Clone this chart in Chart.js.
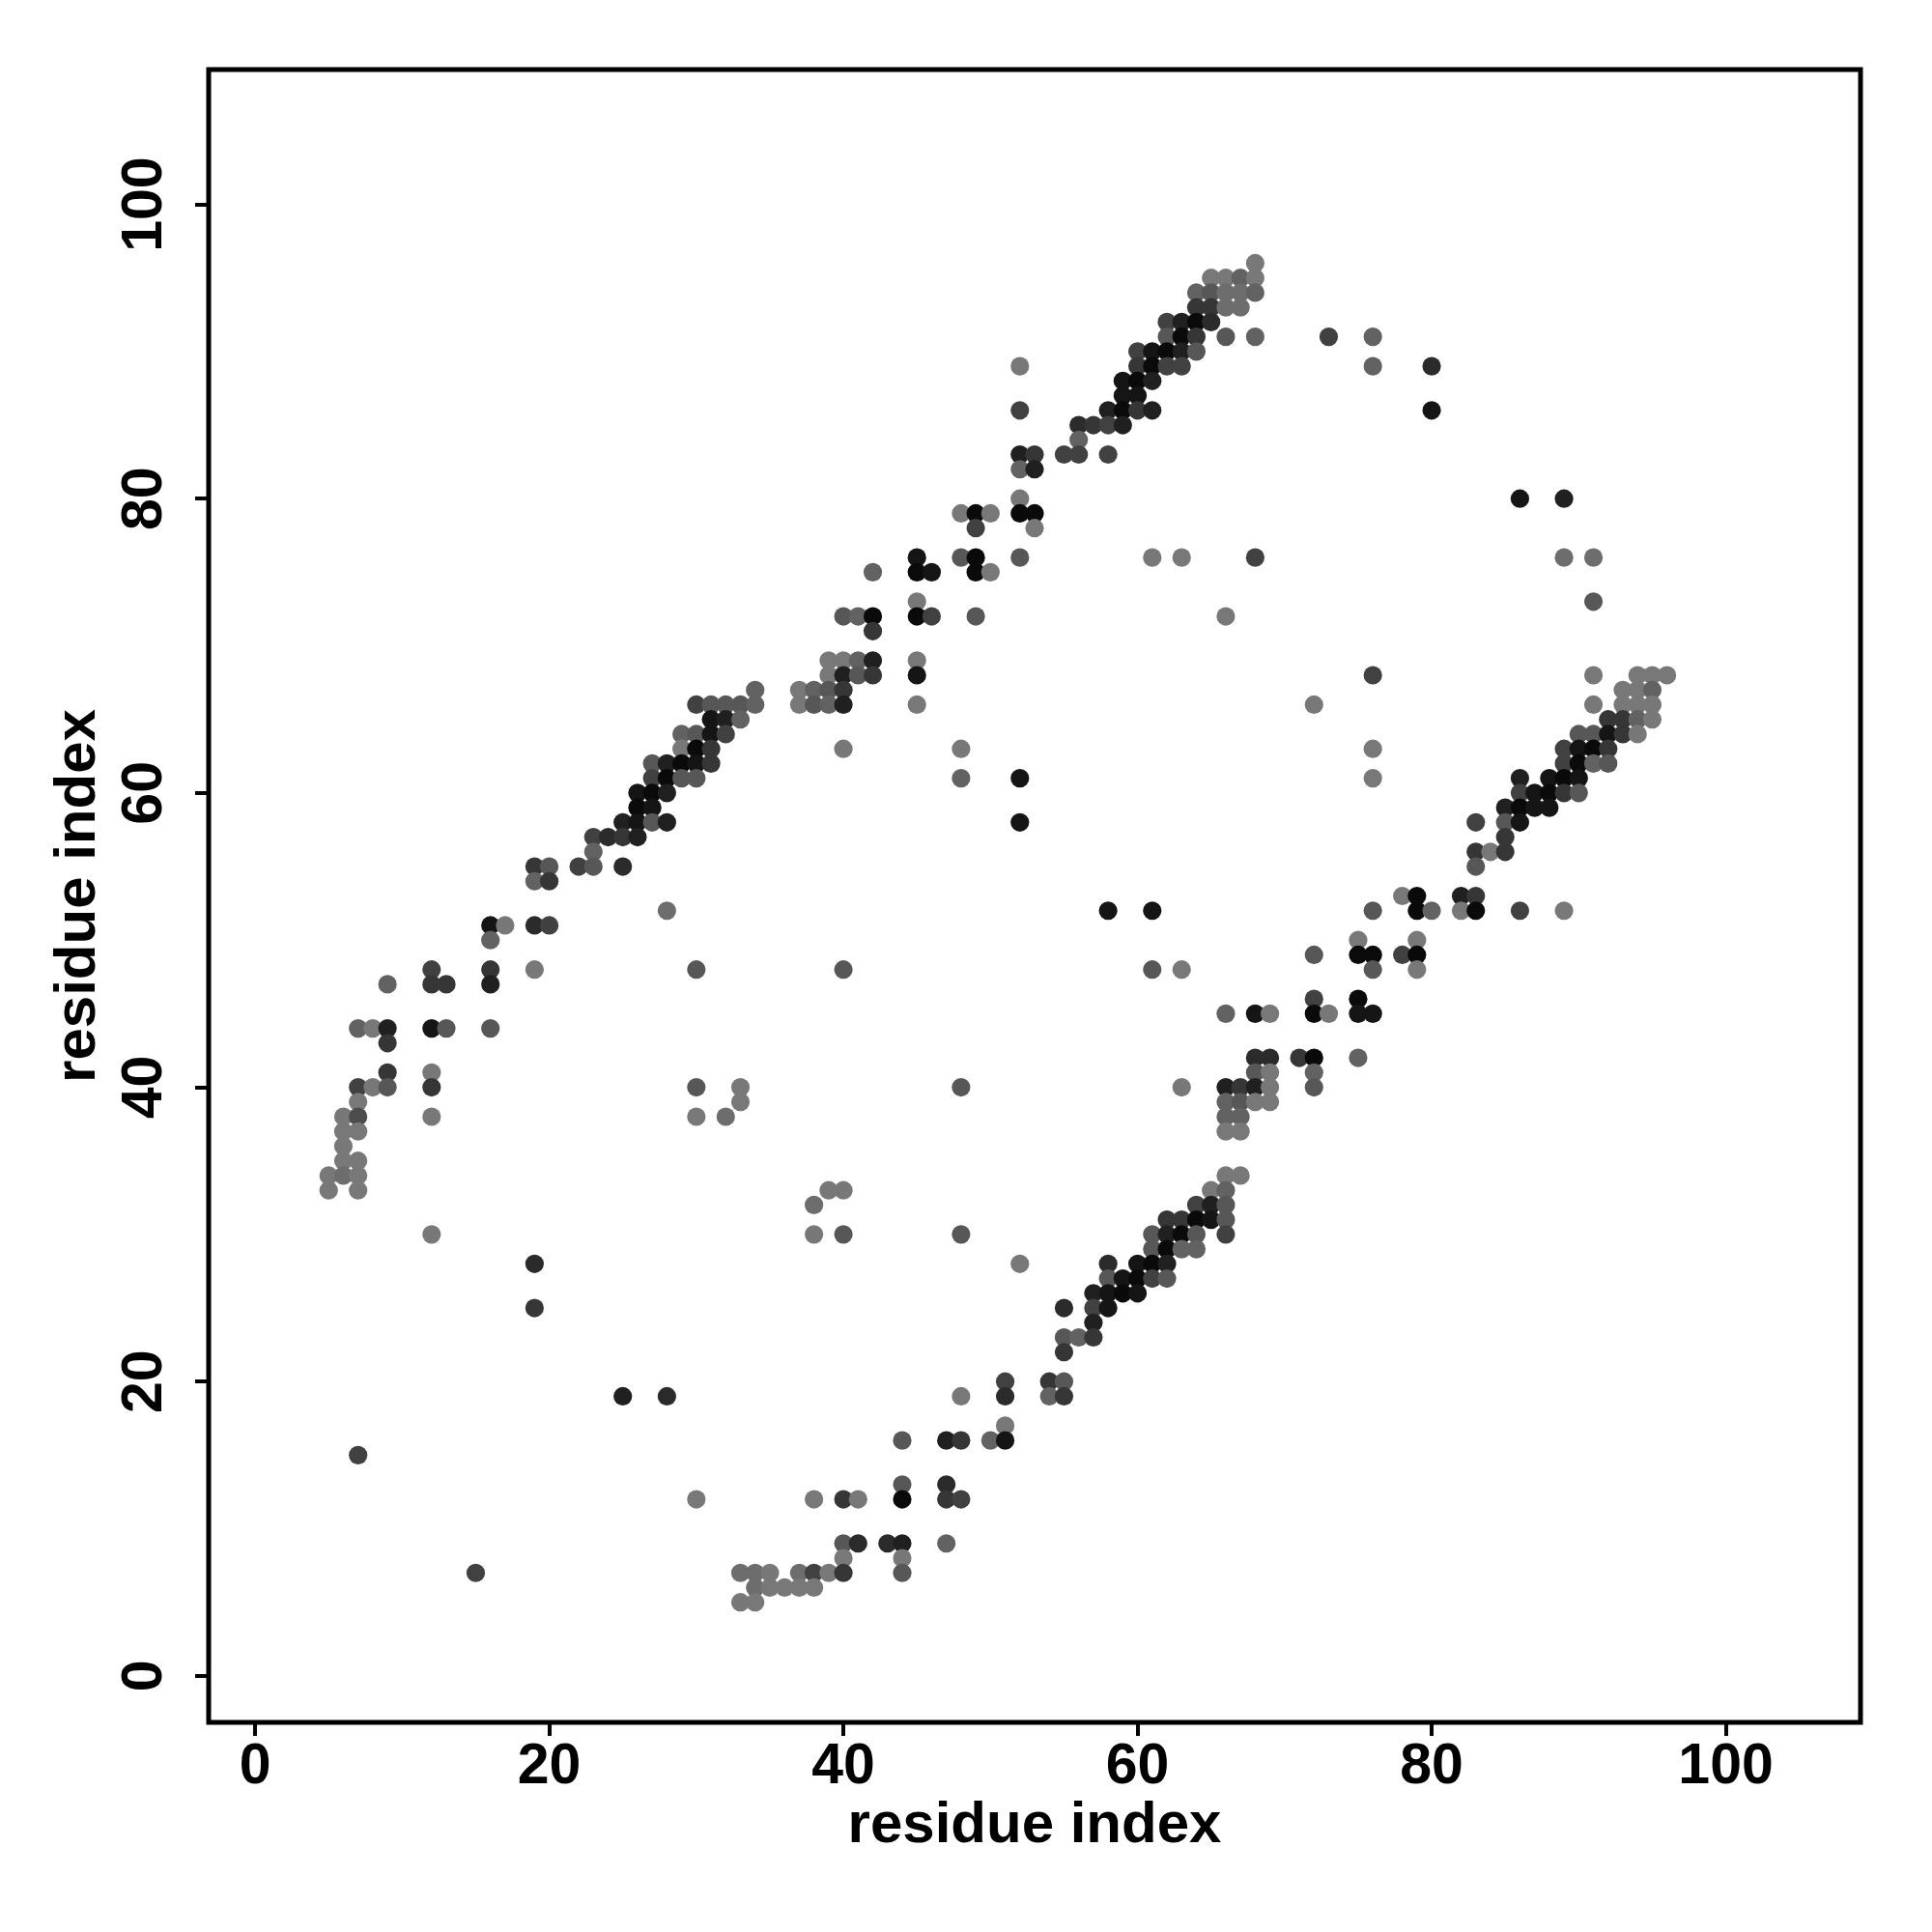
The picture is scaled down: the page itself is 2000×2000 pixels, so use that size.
<!DOCTYPE html>
<html>
<head>
<meta charset="utf-8">
<title>residue contact map</title>
<script src="https://cdn.jsdelivr.net/npm/chart.js@4.4.1/dist/chart.umd.min.js"></script>
<style>
  html, body { margin: 0; padding: 0; background: #fff; }
  #chartContainer { width: 2000px; height: 2000px; }
</style>
</head>
<body>
<div id="chartContainer"><canvas id="myChart" width="2000" height="2000"></canvas></div>
<script>
// contact map: one entry per residue on the y axis (top to bottom)
const rowY = [96, 95, 94, 93, 92, 91, 90, 89, 88, 87, 86, 85, 84, 83, 82, 80, 79, 78, 76, 75,
  73, 72, 71, 69, 68, 67, 66, 65, 64, 63, 62, 61, 60, 59, 58, 57, 56, 55, 54, 53,
  52, 51, 50, 49, 48, 47, 46, 45, 44, 43, 42, 41, 40, 39, 38, 37, 36, 35, 34, 33,
  32, 31, 30, 29, 28, 27, 26, 25, 24, 23, 22, 20, 19, 17, 16, 15, 13, 12, 9, 8,
  7, 6, 5];

// partner residues (x) in each row
const rowX = [
  [68], [65, 66, 67, 68], [64, 65, 66, 67, 68], [64, 65, 66, 67], [62, 63, 64, 65],
  [62, 63, 64, 66, 68, 73, 76], [60, 61, 62, 63, 64], [52, 60, 61, 62, 63, 76, 80],
  [59, 60, 61], [59, 60], [52, 58, 59, 60, 61, 80], [56, 57, 58, 59], [56],
  [52, 53, 55, 56, 58], [52, 53], [52, 86, 89], [48, 49, 50, 52, 53], [49, 53],
  [45, 48, 49, 52, 61, 63, 68, 89, 91], [42, 45, 46, 49, 50],
  [45, 91], [40, 41, 42, 45, 46, 49, 66], [42], [39, 40, 41, 42, 45],
  [39, 40, 41, 42, 45, 76, 91, 94, 95, 96], [34, 37, 38, 39, 40, 93, 94, 95],
  [30, 31, 32, 33, 34, 37, 38, 39, 40, 45, 72, 91, 93, 94, 95], [31, 32, 33, 92, 93, 94, 95],
  [29, 30, 31, 32, 90, 91, 92, 93, 94], [29, 30, 31, 40, 48, 76, 89, 90, 91, 92],
  [27, 28, 29, 30, 31, 89, 90, 91, 92], [27, 28, 29, 30, 48, 52, 76, 86, 88, 89, 90],
  [26, 27, 28, 86, 87, 88, 89, 90], [26, 27, 85, 86, 87, 88], [25, 26, 27, 28, 52, 83, 85, 86],
  [23, 24, 25, 26, 85], [23, 83, 84, 85], [19, 20, 22, 23, 25, 83], [19, 20], [78, 79, 82, 83],
  [28, 58, 61, 76, 79, 80, 82, 83, 86, 89], [16, 17, 19, 20], [16, 75, 79], [72, 75, 76, 78, 79],
  [12, 16, 19, 30, 40, 61, 63, 76, 79], [9, 12, 13, 16], [72, 75], [66, 68, 69, 72, 73, 75, 76],
  [7, 8, 9, 12, 13, 16], [9], [68, 69, 71, 72, 75], [9, 12, 68, 69, 72],
  [7, 8, 9, 12, 30, 33, 48, 63, 66, 67, 68, 69, 72], [7, 33, 66, 67, 68, 69],
  [6, 7, 12, 30, 32, 66, 67], [6, 7, 66, 67], [6], [6, 7], [5, 6, 7, 66, 67], [5, 7, 39, 40, 65, 66],
  [38, 64, 65, 66], [62, 63, 64, 65, 66], [12, 38, 40, 48, 61, 62, 63, 64, 66], [61, 62, 63, 64],
  [19, 52, 58, 60, 61, 62], [58, 59, 60, 61, 62], [57, 58, 59, 60], [19, 55, 57, 58], [57],
  [55, 56, 57], [55], [51, 54, 55], [25, 28, 48, 51, 54, 55], [51], [44, 47, 48, 50, 51], [7],
  [44, 47], [30, 38, 40, 41, 44, 47, 48], [40, 41, 43, 44, 47], [40, 44],
  [15, 33, 34, 35, 37, 38, 39, 40, 44], [34, 35, 36, 37, 38], [33, 34]
];

// contact strength read from the grey level (0 = light grey, 10 = black)
const rowScore = [
  [0], [0, 0, 2, 0], [2, 3, 1, 1, 2], [6, 6, 1, 1], [5, 8, 10, 7],
  [3, 10, 6, 3, 2, 5, 2], [5, 9, 10, 8, 3], [0, 6, 10, 5, 5, 2, 7],
  [9, 10, 8], [9, 9], [5, 8, 10, 6, 8, 9], [7, 6, 5, 8], [2],
  [8, 6, 5, 5, 5], [2, 8], [0, 9, 8], [0, 10, 0, 10, 10], [5, 0],
  [9, 3, 10, 3, 0, 0, 5, 1, 1], [2, 10, 9, 10, 0],
  [0, 3], [3, 2, 10, 10, 5, 3, 0], [6], [0, 0, 2, 8, 0],
  [0, 8, 3, 6, 9, 5, 0, 0, 0, 0], [2, 0, 2, 3, 6, 0, 0, 2],
  [5, 3, 3, 3, 2, 0, 3, 2, 8, 0, 0, 0, 0, 0, 0], [9, 8, 2, 6, 6, 2, 0],
  [2, 3, 9, 5, 3, 3, 9, 6, 0], [0, 10, 6, 0, 0, 0, 5, 9, 10, 6],
  [3, 8, 10, 9, 6, 5, 10, 2, 3], [5, 10, 3, 3, 2, 9, 0, 8, 9, 10, 9],
  [9, 10, 8, 5, 9, 10, 6, 3], [10, 9, 8, 10, 9, 9], [8, 9, 3, 8, 9, 5, 3, 9],
  [5, 7, 6, 8, 6], [2, 6, 0, 6], [6, 3, 5, 3, 7, 3], [2, 6], [0, 10, 8, 6],
  [1, 9, 9, 3, 10, 2, 0, 10, 5, 0], [9, 0, 7, 5], [2, 0, 0], [3, 10, 10, 5, 10],
  [5, 6, 0, 3, 3, 3, 0, 3, 0], [2, 6, 6, 8], [5, 10], [2, 9, 0, 10, 0, 9, 9],
  [2, 0, 8, 9, 3, 3], [6], [7, 7, 6, 10, 2], [6, 0, 3, 0, 2],
  [5, 0, 3, 6, 3, 0, 3, 0, 8, 6, 8, 0, 3], [0, 0, 2, 3, 0, 0],
  [0, 4, 0, 0, 1, 2, 2], [0, 0, 0, 0], [0], [0, 0], [0, 1, 0, 0, 0], [0, 0, 0, 0, 0, 2],
  [1, 5, 8, 3], [6, 6, 10, 9, 3], [0, 0, 3, 3, 3, 8, 10, 3, 5], [3, 10, 2, 2],
  [7, 0, 7, 9, 10, 8], [3, 9, 10, 5, 3], [8, 9, 10, 9], [6, 7, 5, 9], [8],
  [3, 2, 6], [6], [5, 6, 3], [8, 7, 0, 7, 2, 6], [0], [3, 8, 6, 2, 9], [5],
  [3, 7], [0, 0, 6, 0, 10, 6, 5], [3, 7, 7, 8, 2], [0, 0],
  [5, 1, 1, 0, 1, 5, 0, 6, 3], [1, 0, 0, 0, 0], [0, 0]
];

const tickValues = [0, 20, 40, 60, 80, 100];
const axisTitle = 'residue index';
const axisMin = -3.16;
const axisMax = 109.16;

// score -> grey
function shade(score) {
    const g = Math.round(10 + (10 - score) * 11);
    return 'rgb(' + g + ',' + g + ',' + g + ')';
}

// flatten the rows into scatter points
const points = [];
const colors = [];
rowY.forEach((y, i) => {
    rowX[i].forEach((x, k) => {
        points.push({ x: x, y: y });
        colors.push(shade(rowScore[i][k]));
    });
});

const fontFamily = '"Liberation Sans", Arial, Helvetica, sans-serif';

// frame round the plotting region
const boxPlugin = {
    id: 'box',
    afterDraw(chart) {
        const { ctx, chartArea } = chart;
        ctx.save();
        ctx.strokeStyle = '#000';
        ctx.lineWidth = 5;
        ctx.strokeRect(chartArea.left, chartArea.top,
            chartArea.right - chartArea.left, chartArea.bottom - chartArea.top);
        ctx.restore();
    }
};

function fixedTicks(scale) {
    scale.ticks = tickValues.map(v => ({ value: v }));
}

const ctx = document.getElementById('myChart').getContext('2d');
new Chart(ctx, {
    type: 'scatter',
    data: {
        datasets: [{
            data: points,
            backgroundColor: colors,
            borderWidth: 0,
            pointRadius: 9.6,
            pointHoverRadius: 9.6
        }]
    },
    options: {
        responsive: false,
        animation: false,
        devicePixelRatio: 1,
        layout: { padding: { left: 0, top: 72, right: 74, bottom: 0 } },
        plugins: {
            legend: { display: false },
            tooltip: { enabled: false }
        },
        scales: {
            x: {
                type: 'linear',
                min: axisMin,
                max: axisMax,
                afterBuildTicks: fixedTicks,
                afterFit: scale => { scale.height = 217; },
                border: { display: false },
                grid: {
                    display: true,
                    drawOnChartArea: false,
                    drawTicks: true,
                    tickLength: 14,
                    lineWidth: 4,
                    color: '#000'
                },
                ticks: {
                    autoSkip: false,
                    maxRotation: 0,
                    padding: -3,
                    color: '#000',
                    font: { family: fontFamily, size: 59, weight: 'bold' }
                },
                title: {
                    display: true,
                    text: axisTitle,
                    color: '#000',
                    font: { family: fontFamily, size: 60, weight: 'bold' },
                    padding: { top: 0, bottom: 74 }
                }
            },
            y: {
                type: 'linear',
                min: axisMin,
                max: axisMax,
                afterBuildTicks: fixedTicks,
                afterFit: scale => { scale.width = 216; },
                border: { display: false },
                grid: {
                    display: true,
                    drawOnChartArea: false,
                    drawTicks: true,
                    tickLength: 14,
                    lineWidth: 4,
                    color: '#000'
                },
                ticks: {
                    autoSkip: false,
                    minRotation: 90,
                    maxRotation: 90,
                    crossAlign: 'center',
                    padding: 2,
                    color: '#000',
                    font: { family: fontFamily, size: 59, weight: 'bold' }
                },
                title: {
                    display: true,
                    text: axisTitle,
                    color: '#000',
                    font: { family: fontFamily, size: 60, weight: 'bold' },
                    padding: { top: 45, bottom: 0 }
                }
            }
        }
    },
    plugins: [boxPlugin]
});
</script>
</body>
</html>
